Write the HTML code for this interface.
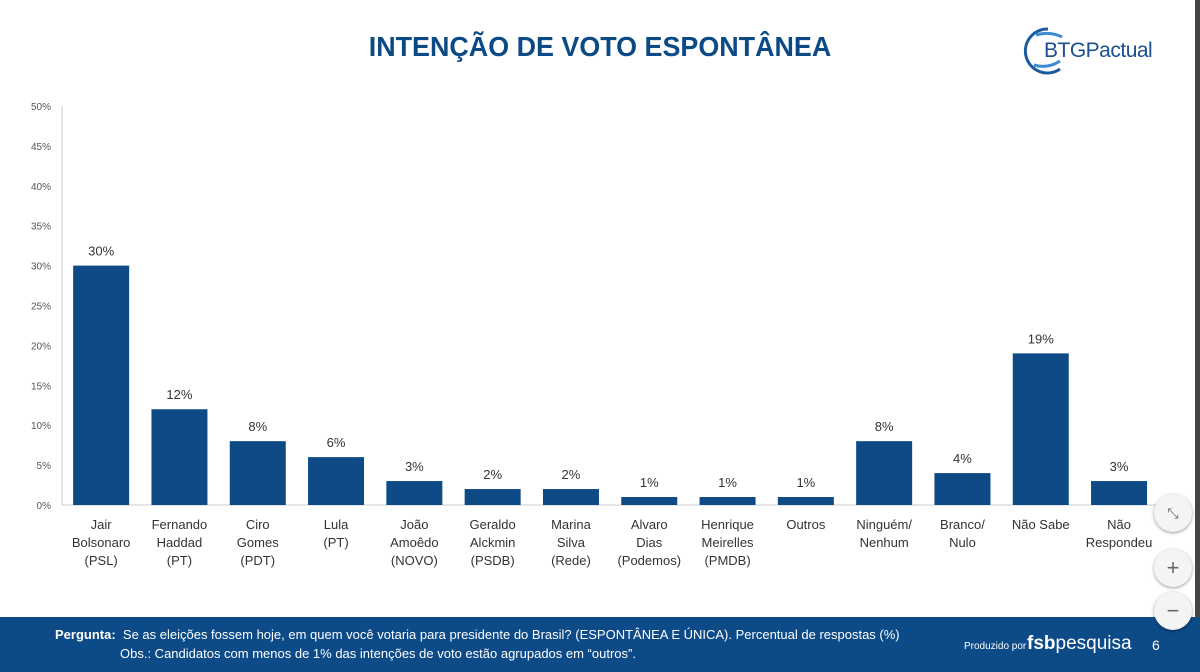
<!DOCTYPE html>
<html><head><meta charset="utf-8"><style>
body{margin:0;width:1200px;height:672px;overflow:hidden;background:#fff;font-family:"Liberation Sans",sans-serif;position:relative}
#title{position:absolute;left:0;width:1200px;top:31px;text-align:center;color:#0c4a86;font-weight:bold;font-size:28px;transform:scaleX(0.96)}
#footer{position:absolute;left:0;top:617px;width:1200px;height:55px;background:#0d4a88;color:#fff;font-size:13px}
.btn{position:absolute;left:1154px;width:38px;height:38px;border-radius:50%;background:#f4f4f4;box-shadow:0 1px 3px rgba(0,0,0,.4);color:#666;text-align:center;line-height:38px;font-size:22px}
</style></head><body>
<div id="title">INTENÇÃO DE VOTO ESPONTÂNEA</div>
<div style="position:absolute;left:1020px;top:25px;width:150px;height:50px">
<svg width="150" height="50"><path d="M28 4 A22 22 0 1 0 40 44" fill="none" stroke="#1c5aa0" stroke-width="3"/><path d="M16 10 Q30 6 42 12" stroke="#3c8ad0" stroke-width="3" fill="none"/><path d="M14 40 Q28 44 40 36" stroke="#3c8ad0" stroke-width="3" fill="none"/>
<text x="24" y="32" font-family="Liberation Sans,sans-serif" font-size="21" letter-spacing="-0.5" fill="#1c4f8f">BTGPactual</text></svg></div>
<div style="position:absolute;left:1195px;top:0;width:5px;height:672px;background:#444"></div>
<svg id="chart" width="1200" height="672" style="position:absolute;left:0;top:0"></svg>
<div id="footer">
<div style="position:absolute;left:55px;top:10px"><b>Pergunta:</b>&nbsp; Se as eleições fossem hoje, em quem você votaria para presidente do Brasil? (ESPONTÂNEA E ÚNICA). Percentual de respostas (%)</div>
<div style="position:absolute;left:120px;top:29px">Obs.: Candidatos com menos de 1% das intenções de voto estão agrupados em “outros”.</div>
<div style="position:absolute;left:964px;top:24px;font-size:10px">Produzido por</div>
<div style="position:absolute;left:1027px;top:16px;font-size:19px"><b>fsb</b>pesquisa</div>
<div style="position:absolute;left:1152px;top:20px;font-size:14px">6</div>
</div>
<div class="btn" style="top:494px;font-size:14px">⤡</div>
<div class="btn" style="top:549px">+</div>
<div class="btn" style="top:592px">−</div>
<script>
const categories=[["Jair","Bolsonaro","(PSL)"],["Fernando","Haddad","(PT)"],["Ciro","Gomes","(PDT)"],["Lula","(PT)"],["João","Amoêdo","(NOVO)"],["Geraldo","Alckmin","(PSDB)"],["Marina","Silva","(Rede)"],["Alvaro","Dias","(Podemos)"],["Henrique","Meirelles","(PMDB)"],["Outros"],["Ninguém/","Nenhum"],["Branco/","Nulo"],["Não Sabe"],["Não","Respondeu"]];
const values=[30,12,8,6,3,2,2,1,1,1,8,4,19,3];
const ticks=[0,5,10,15,20,25,30,35,40,45,50];
const svg=document.getElementById('chart');const NS='http://www.w3.org/2000/svg';
const x0=62,bw=78.3,y0=505,ppu=7.98;
const y=v=>y0-v*ppu, xc=i=>x0+bw*(i+0.5);
function mk(t,a){const e=document.createElementNS(NS,t);for(const k in a)e.setAttribute(k,a[k]);svg.appendChild(e);return e;}
ticks.forEach(t=>{const e=mk('text',{x:51,y:y(t)+4,'text-anchor':'end','font-size':10,fill:'#555','font-family':'Liberation Sans,sans-serif'});e.textContent=t+'%';

});
const ax=mk('line',{x1:x0,y1:y(0),x2:x0,y2:y(50),stroke:'#ccc'});


const bx=mk('line',{x1:x0,y1:y0,x2:x0+bw*categories.length,y2:y0,stroke:'#ccc'});


values.forEach((v,i)=>{
const r=mk('rect',{x:xc(i)-28,y:y(v),width:56,height:v*ppu,fill:'#0e4a86'});


const l=mk('text',{x:xc(i),y:y(v)-10,'text-anchor':'middle','font-size':13,fill:'#333','font-family':'Liberation Sans,sans-serif'});l.textContent=v+'%';


categories[i].forEach((s,j)=>{const c=mk('text',{x:xc(i),y:529+j*18,'text-anchor':'middle','font-size':13,fill:'#333','font-family':'Liberation Sans,sans-serif'});c.textContent=s;

});
});
</script>
</body></html>
